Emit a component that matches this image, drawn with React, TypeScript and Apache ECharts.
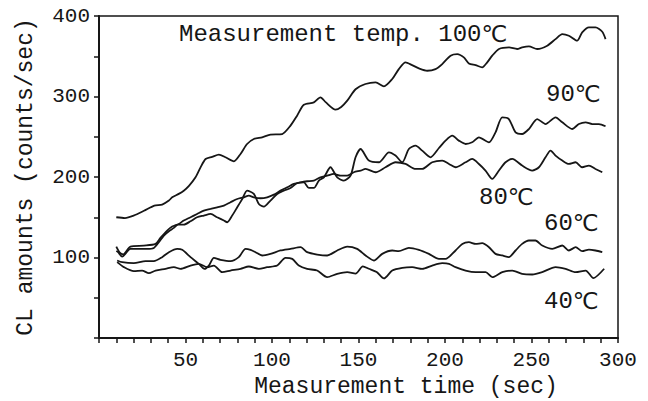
import React, { useEffect, useRef } from "react";
import * as echarts from "echarts";

const xTickLabels = [50, 100, 150, 200, 250, 300];
const yTickLabels = [100, 200, 300, 400];

const temp100: [number, number][] = [
  [10, 150], [15, 149], [20, 152], [26, 158], [32, 164.5], [36.5, 165.7], [40.4, 170.7], [42.3, 174.8],
  [46.1, 179], [49, 183], [52, 189], [55.8, 199.6], [58.7, 212], [61.6, 222.4], [65.4, 225], [69.3, 227.8],
  [73.1, 224.5], [78, 219.5], [81.8, 228.6], [85.6, 241], [89.5, 247.2], [94.3, 249.3], [99.1, 252.6],
  [105.9, 253.4], [110.7, 263.8], [114.5, 276.2], [118.4, 289.8], [124.2, 292.7], [128, 299], [131, 293],
  [136.7, 283.6], [140, 287], [143.5, 294.8], [148.3, 309], [154, 315.5], [159.9, 317.6], [164.7, 312.6],
  [169.5, 321.7], [173.3, 334], [177.2, 342.4], [181, 339], [184.9, 335], [189.7, 332], [194.5, 334],
  [198.4, 340.3], [203.2, 350.7], [207.1, 352.7], [210.9, 348.6], [213.8, 341.1], [217.7, 339],
  [221.5, 336.2], [224.4, 342.4], [227.3, 350.7], [231.2, 359], [237, 361], [241.7, 359], [244.6, 361],
  [248.5, 362.2], [253.3, 359], [259.1, 363.1], [263.9, 371.3], [267.8, 377.5], [271.6, 375.5],
  [276.4, 369.3], [279.3, 379.6], [283.2, 385.8], [287, 385.8], [290.9, 380.4], [292.8, 371.3],
];

const temp90: [number, number][] = [
  [10, 108], [11, 106.6], [13.4, 101], [18.2, 110.7], [27.8, 110.7], [31.7, 111.9], [34.6, 119],
  [37.5, 127.2], [40.4, 132.6], [43.3, 136.8], [45.6, 140.9], [49, 140.9], [52.9, 145], [56.7, 150],
  [60.6, 152.1], [64.5, 154.1], [68.3, 150], [72.2, 145.9], [74.1, 143.8], [77, 152.1], [79.9, 162.4],
  [82.8, 172.7], [85.6, 183.1], [89.5, 179], [92.4, 166.5], [95.3, 163.2], [99.1, 170.7], [103, 179],
  [106.8, 183.1], [110.7, 186.4], [114.5, 192.2], [118.4, 193.4], [121.3, 186.4], [124.2, 186.4],
  [127.1, 195.5], [130, 199.6], [133.8, 212.1], [137.7, 199.6], [141.5, 195.5], [145.4, 201.7],
  [148.3, 224.5], [151.2, 234.8], [156, 220.4], [161.8, 218.3], [167.6, 230.7], [171.4, 226.6],
  [175.3, 218.3], [179.1, 234.8], [183, 239], [186.8, 232.8], [191.6, 224.5], [196.5, 236],
  [200.3, 245.2], [204.2, 251.4], [208, 245.2], [211.9, 241], [215.7, 243.1], [219.6, 249.3],
  [225.4, 243.1], [229.2, 255.5], [233.1, 274.1], [236.9, 272], [240.8, 255.5], [244.6, 253.4],
  [248.5, 259.6], [253.3, 272], [258.1, 265.8], [263.9, 274.1], [267.8, 267.9], [273.5, 259.6],
  [277.4, 265.8], [281.3, 267.9], [285.1, 265.8], [289, 265.8], [292.8, 263],
];

const temp80: [number, number][] = [
  [10, 113.6], [12, 106], [14, 104], [18.2, 113.6], [25.9, 114.8], [32.7, 116.9], [35.5, 124.3],
  [39.4, 133.4], [42.3, 138.4], [46.1, 141.7], [49, 145.9], [52.9, 150], [56.7, 154.1], [60.6, 158.3],
  [64.5, 160.3], [68.3, 162.4], [72.2, 164.5], [76, 168.6], [79.9, 172.7], [83.7, 174.8], [86.6, 176.9],
  [89.5, 174.8], [93.4, 173.6], [97.2, 174.8], [101.1, 178.1], [104.9, 183.1], [108.8, 187.2],
  [112.6, 191.4], [116.5, 193.4], [120.3, 194.7], [124.2, 195.5], [128, 199.6], [131.9, 201.7],
  [135.8, 203.8], [139.6, 201.7], [143.5, 201.7], [147.3, 205.9], [151.2, 207.9], [154.1, 210],
  [159.9, 205.9], [165.6, 212.1], [171.4, 218.3], [177.2, 216.2], [183, 210], [186.8, 210],
  [192.6, 218.3], [198.4, 220.4], [202.3, 216.2], [206.1, 212.1], [211.9, 218.3], [215.7, 222.4],
  [219.6, 216.2], [223.4, 208], [227.3, 197.6], [231.2, 208], [235, 218.3], [238.9, 222.4],
  [244.6, 214.2], [250.4, 208], [254.3, 212.1], [258.1, 224.5], [261, 232.8], [263.9, 226.6],
  [267.8, 220.4], [271.6, 216.2], [275.5, 218.3], [279.3, 212.1], [283.2, 214.2], [287, 210],
  [290.9, 205.9],
];

const temp60: [number, number][] = [
  [10.5, 96.3], [13.4, 94.2], [20.1, 93], [26.9, 95.4], [31.7, 95.4], [36.5, 100.4], [40.4, 106.6],
  [45.2, 110.7], [48.1, 109.5], [52.9, 100.4], [57.7, 92.1], [61, 85.9], [63.5, 90], [66.4, 99.6],
  [70.2, 97.1], [76, 95.4], [80.8, 100.4], [84.7, 110.7], [87.6, 109.5], [90.5, 106.6], [94.3, 102.5],
  [99.1, 104.5], [104.9, 108.7], [110.7, 110.7], [116.5, 112.8], [120.3, 106.6], [126.1, 103.7],
  [131.9, 102.5], [137.7, 108.7], [143.5, 113.6], [149.2, 110.7], [154.1, 102.5], [158.9, 96.3],
  [163.7, 104.5], [169.5, 108.7], [173.3, 107.8], [179.1, 112], [184.9, 109.5], [190.7, 104.5],
  [196.5, 98.3], [200.3, 98.3], [206.1, 108.7], [210, 116.9], [213.8, 119], [217.7, 116.9],
  [221.5, 117.8], [225.4, 112.8], [229.2, 104.5], [233.1, 102.5], [236.9, 100.4], [240.8, 108.7],
  [244.6, 116.9], [248.5, 121.1], [252.3, 121.1], [256.2, 114.9], [262, 110.7], [267.8, 114.9],
  [271.6, 108.7], [275.5, 112.8], [279.3, 107.8], [283.2, 109.9], [287, 108.7], [290.9, 106.6],
];

const temp40: [number, number][] = [
  [10.5, 94.2], [14.4, 88], [20.1, 83], [24.9, 83.8], [28.8, 80.5], [32.7, 83.8], [38.4, 85.9],
  [43.3, 88], [47.1, 85.9], [52.9, 90], [57.7, 92.1], [62.5, 88], [66.4, 90], [71.2, 81.8], [76, 83.8],
  [81.8, 85.9], [86.6, 88.8], [92.4, 85.9], [97.2, 88], [103, 90], [107.8, 99.6], [111.7, 98.3],
  [115.5, 90], [120.3, 85.9], [126.1, 83.8], [131.9, 75.6], [137.7, 79.7], [143.5, 81.8], [148.3, 80],
  [152.5, 89], [156, 86], [160.5, 82], [164.7, 74], [169.5, 83.8], [175.3, 87.1], [181, 88],
  [186.8, 85.9], [192.6, 90], [198.4, 92.9], [202.3, 92.1], [206.1, 88], [211.9, 83.8], [217.7, 81.8],
  [223.5, 81.8], [227.3, 75.6], [233.1, 81.8], [238.9, 83.8], [244.6, 79.7], [250.4, 78.9],
  [256.2, 81.8], [263.9, 88], [269.7, 85.9], [275.5, 81.8], [281.3, 83.8], [285.8, 74.5], [292, 86],
];

const seriesNames = ["100℃", "90℃", "80℃", "60℃", "40℃"];
const seriesData = [temp100, temp90, temp80, temp60, temp40];

const FONT = "'Liberation Mono', monospace";
const SYM = "'DejaVu Sans', sans-serif";
const INK = "#161616";

const richLabel = (num: string) => ({
  text: `{n|${num}}{c|℃}`,
  rich: {
    n: { fontFamily: FONT, fontSize: 24, fill: INK, color: INK },
    c: { fontFamily: SYM, fontSize: 23, fill: INK, color: INK },
  },
  fill: INK,
  verticalAlign: "middle",
  align: "left",
});

export default function App() {
  const ref = useRef<HTMLDivElement>(null);
  useEffect(() => {
    if (!ref.current) return;
    const chart = echarts.init(ref.current, null, { renderer: "svg" });
    chart.setOption({
      animation: false,
      backgroundColor: "#ffffff",
      grid: {
        left: 99, right: 30, top: 16, bottom: 63,
        show: true, borderColor: INK, borderWidth: 1.5,
        outerBoundsMode: "none",
      },
      xAxis: {
        type: "value", min: 0, max: 300, interval: 10,
        axisLine: { lineStyle: { color: INK, width: 2 } },
        axisTick: { length: 5, lineStyle: { color: INK, width: 1.5 } },
        splitLine: { show: false },
        axisLabel: {
          margin: 12, fontFamily: FONT, fontSize: 21, color: INK,
          formatter: (v: number) => (xTickLabels.includes(v) ? String(v) : ""),
        },
        name: "Measurement time (sec)", nameLocation: "middle", nameGap: 37,
        nameTextStyle: { fontFamily: FONT, fontSize: 23, color: INK, padding: [0, 0, 0, 95] },
      },
      yAxis: {
        type: "value", min: 0, max: 400, interval: 50,
        axisLine: { show: true, lineStyle: { color: INK, width: 2 } },
        axisTick: { show: true, length: 5, lineStyle: { color: INK, width: 1.5 } },
        splitLine: { show: false },
        axisLabel: {
          margin: 9, fontFamily: FONT, fontSize: 21, color: INK,
          formatter: (v: number) => (yTickLabels.includes(v) ? String(v) : ""),
        },
        name: "CL amounts (counts/sec)", nameLocation: "middle", nameGap: 62,
        nameTextStyle: { fontFamily: FONT, fontSize: 23, color: INK },
      },
      graphic: [
        { type: "text", x: 179, y: 34, style: richLabel("Measurement temp. 100") },
        { type: "text", x: 546, y: 94, style: richLabel("90") },
        { type: "text", x: 479, y: 197, style: richLabel("80") },
        { type: "text", x: 544, y: 223, style: richLabel("60") },
        { type: "text", x: 544, y: 301, style: richLabel("40") },
      ],
      series: seriesData.map((d, i) => ({
        name: seriesNames[i],
        type: "line",
        data: d,
        showSymbol: false,
        symbol: "none",
        smooth: 0.25,
        lineStyle: { color: INK, width: 1.8 },
        z: 3,
      })),
    });
    return () => chart.dispose();
  }, []);
  return (
    <div
      ref={ref}
      style={{ position: "fixed", left: 0, top: 0, width: 648, height: 401, background: "#fff" }}
    />
  );
}
